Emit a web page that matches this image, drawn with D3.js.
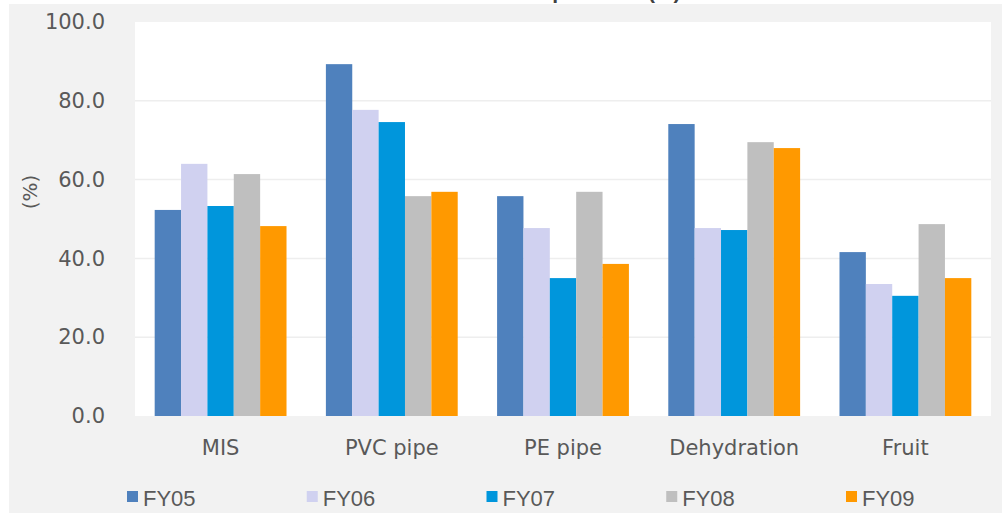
<!DOCTYPE html>
<html>
<head>
<meta charset="utf-8">
<script src="https://cdn.jsdelivr.net/npm/d3@7"></script>
<style>
  html, body { margin: 0; padding: 0; background: #ffffff; }
  svg { display: block; }
</style>
</head>
<body>
<svg id="chart" width="1002" height="513"></svg>
<script>
// Categories, series and values
const categories = ["MIS", "PVC pipe", "PE pipe", "Dehydration", "Fruit"];
const seriesNames = ["FY05", "FY06", "FY07", "FY08", "FY09"];
const fy05 = [52.3, 89.3, 55.8, 74.1, 41.6];
const fy06 = [64.0, 77.7, 47.7, 47.7, 33.5];
const fy07 = [53.3, 74.6, 35.0, 47.2, 30.5];
const fy08 = [61.4, 55.8, 56.9, 69.5, 48.7];
const fy09 = [48.2, 56.9, 38.6, 68.0, 35.0];
const yTicks = [0, 20, 40, 60, 80, 100];
const titleText = "Contribution of select products (%)";
const yAxisTitle = "(%)";

const seriesValues = [fy05, fy06, fy07, fy08, fy09];
const colors = ["#4f81bd", "#d0d1f0", "#0096dc", "#bfbfbf", "#ff9900"];

const svg = d3.select("#chart");
const W = 1002, H = 513;

// Chart background
svg.append("rect").attr("x", 9).attr("y", 4).attr("width", W - 9).attr("height", H - 4)
  .attr("fill", "#f2f2f2");

// Title (sits above the top edge; only its descenders show)
svg.append("text").attr("x", 505).attr("y", -1)
  .attr("text-anchor", "middle")
  .attr("font-family", "Liberation Sans, Arial, sans-serif")
  .attr("font-weight", "bold").attr("font-size", 21)
  .attr("fill", "#404040").text(titleText);

const plot = { left: 135, right: 991, top: 22, bottom: 416 };

svg.append("rect").attr("x", plot.left).attr("y", plot.top)
  .attr("width", plot.right - plot.left).attr("height", plot.bottom - plot.top)
  .attr("fill", "#ffffff");

const x0 = d3.scaleBand().domain(categories).range([plot.left, plot.right])
  .paddingInner(0.23).paddingOuter(0.115);
const x1 = d3.scaleBand().domain(seriesNames).range([0, x0.bandwidth()]);
const y = d3.scaleLinear().domain([0, 100]).range([plot.bottom, plot.top]);

// Gridlines
svg.append("g").selectAll("line").data(yTicks.filter(t => t > 0 && t < 100)).join("line")
  .attr("x1", plot.left).attr("x2", plot.right)
  .attr("y1", d => y(d)).attr("y2", d => y(d))
  .attr("stroke", "#eeeeee").attr("stroke-width", 1.5);

// Y axis
const yAxis = svg.append("g").attr("transform", `translate(${plot.left - 30},0)`)
  .call(d3.axisLeft(y).tickValues(yTicks).tickFormat(d3.format(".1f")).tickSize(0).tickPadding(0));
yAxis.select(".domain").remove();
yAxis.selectAll("text")
  .attr("font-family", "DejaVu Sans, Verdana, sans-serif")
  .attr("font-size", 21).attr("fill", "#595959");

// Y axis title
svg.append("text")
  .attr("transform", "translate(37,192) rotate(-90)")
  .attr("text-anchor", "middle")
  .attr("font-family", "DejaVu Sans, Verdana, sans-serif")
  .attr("font-size", 20).attr("fill", "#595959")
  .text(yAxisTitle);

// Bars
const groups = svg.append("g").selectAll("g").data(categories).join("g")
  .attr("transform", d => `translate(${x0(d)},0)`);
groups.selectAll("rect")
  .data((c, ci) => seriesNames.map((s, si) => ({ s, si, v: seriesValues[si][ci] })))
  .join("rect")
  .attr("x", d => x1(d.s))
  .attr("y", d => y(d.v))
  .attr("width", x1.bandwidth())
  .attr("height", d => y(0) - y(d.v))
  .attr("fill", d => colors[d.si]);

// X axis labels
const xAxis = svg.append("g").attr("transform", `translate(0,${plot.bottom})`)
  .call(d3.axisBottom(x0).tickSize(0).tickPadding(0));
xAxis.select(".domain").remove();
xAxis.selectAll("text")
  .attr("dy", null).attr("y", 39)
  .attr("font-family", "DejaVu Sans, Verdana, sans-serif")
  .attr("font-size", 21).attr("fill", "#595959");

// Legend
const legendX = d3.scalePoint().domain(seriesNames).range([127, 846]);
const legend = svg.append("g").selectAll("g").data(seriesNames).join("g")
  .attr("transform", d => `translate(${legendX(d)},0)`);
legend.append("rect").attr("x", 0).attr("y", 491).attr("width", 11).attr("height", 11)
  .attr("fill", (d, i) => colors[i]);
legend.append("text").attr("x", 16).attr("y", 506)
  .attr("font-family", "Liberation Sans, Arial, sans-serif")
  .attr("font-size", 22).attr("fill", "#595959")
  .text(d => d);
</script>
</body>
</html>
